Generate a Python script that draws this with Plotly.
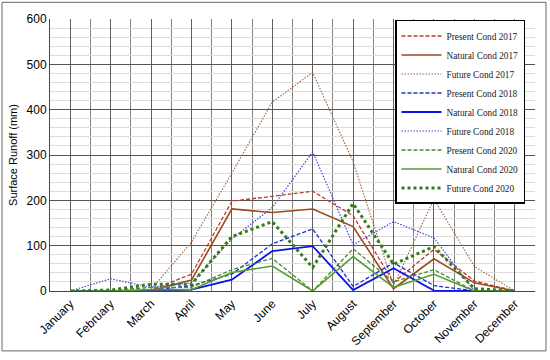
import plotly.graph_objects as go

months = ["January", "February", "March", "April", "May", "June", "July",
          "August", "September", "October", "November", "December"]

present_2017 = [0, 0, 2, 37, 198, 209, 220, 166, 19, 92, 22, 0]
natural_2017 = [0, 0, 1, 24, 181, 173, 181, 142, 5, 71, 18, 0]
future_2017 = [0, 0, 3, 108, 260, 417, 482, 285, 12, 203, 54, 0]
present_2018 = [0, 0, 1, 12, 37, 104, 137, 10, 62, 12, 0, 0]
natural_2018 = [0, 0, 0, 3, 25, 88, 99, 2, 50, 1, 0, 0]
future_2018 = [0, 27, 8, 18, 115, 184, 307, 102, 153, 117, 0, 0]
present_2020 = [0, 1, 8, 8, 47, 72, 0, 93, 20, 47, 0, 0]
natural_2020 = [0, 0, 3, 3, 41, 55, 0, 76, 8, 37, 0, 0]
future_2020 = [0, 2, 15, 15, 120, 153, 52, 193, 59, 98, 5, 0]

series = [
    ("Present Cond 2017", present_2017, "#C0392B", "4px,2px", 1.3),
    ("Natural Cond 2017", natural_2017, "#9C4A1A", "solid", 1.6),
    ("Future Cond 2017", future_2017, "#A0603A", "1.5px,1.5px", 1.1),
    ("Present Cond 2018", present_2018, "#1F2FC8", "4px,2px", 1.3),
    ("Natural Cond 2018", natural_2018, "#0A14E6", "solid", 1.8),
    ("Future Cond 2018", future_2018, "#4545DD", "1.5px,1.5px", 1.2),
    ("Present Cond 2020", present_2020, "#4A8A2A", "4px,2px", 1.3),
    ("Natural Cond 2020", natural_2020, "#5A9A35", "solid", 1.6),
    ("Future Cond 2020", future_2020, "#367A1E", "3px,3px", 3),
]

x = list(range(len(months)))
fig = go.Figure()
for name, vals, color, dash, w in series:
    fig.add_trace(go.Scatter(x=x, y=vals, mode="lines", name=name,
                             line=dict(color=color, dash=dash, width=w)))

W, H = 550, 360
L, R, T, B = 50, 15, 19, 64
pw, ph = W - L - R, H - T - B

def px_x(p):
    return (p - L) / pw

def px_y(p):
    return (H - B - p) / ph

fig.update_layout(
    width=W, height=H, autosize=False,
    margin=dict(l=L, r=R, t=T, b=B),
    paper_bgcolor="white", plot_bgcolor="white",
    font=dict(family="Liberation Sans", size=11, color="#000"),
    legend=dict(
        x=px_x(395), y=px_y(20), xanchor="left", yanchor="top",
        bgcolor="white", bordercolor="#000", borderwidth=1.5,
        font=dict(family="Liberation Serif", size=9.3, color="#222"),
        tracegroupgap=0, itemwidth=40,
    ),
    shapes=[dict(type="rect", xref="paper", yref="paper",
                 x0=px_x(2), x1=px_x(546), y0=px_y(357), y1=px_y(2),
                 line=dict(color="#666", width=1))],
)
fig.update_xaxes(
    range=[-0.5, 11.5], tickvals=x, ticktext=months, tickangle=-45,
    showgrid=True, gridcolor="#606060", gridwidth=1,
    minor=dict(dtick=0.5, tick0=0.5, showgrid=True, gridcolor="#808080", gridwidth=1),
    showline=True, linecolor="#444", linewidth=1, ticks="",
    zeroline=False, tickfont=dict(size=12),
)
fig.update_yaxes(
    range=[0, 600], dtick=100, showgrid=True, gridcolor="#555", gridwidth=1,
    minor=dict(dtick=20, showgrid=True, gridcolor="#DDDDDD", gridwidth=1),
    showline=True, linecolor="#444", linewidth=1, ticks="",
    zeroline=False,
    title=dict(text="Surface Runoff (mm)", standoff=6,
               font=dict(family="Liberation Sans", size=11)),
    tickfont=dict(size=12),
)

post = (
    "document.documentElement.style.margin='0';"
    "document.documentElement.style.overflow='hidden';"
    "document.body.style.margin='0';"
    "document.body.style.overflow='hidden';"
    "var gd=document.getElementById('{plot_id}');"
    "gd.style.position='absolute';gd.style.left='0px';gd.style.top='0px';"
)
fig.write_html("out.html",
               config={"displayModeBar": False, "responsive": False},
               post_script=post)
